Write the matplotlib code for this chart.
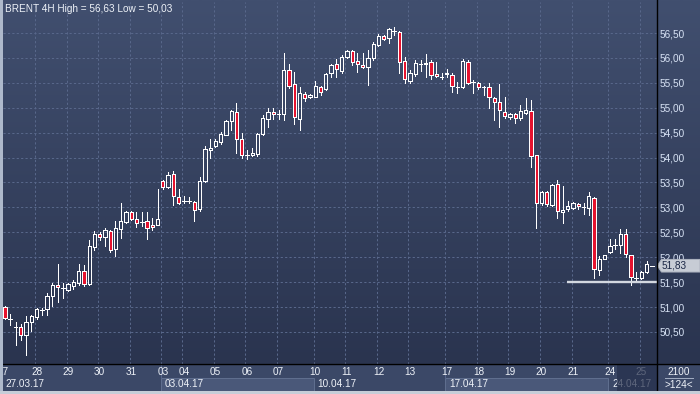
import numpy as np
import matplotlib
matplotlib.use("Agg")
import matplotlib.pyplot as plt
from matplotlib.patches import Rectangle, Polygon
from matplotlib.lines import Line2D
from matplotlib.colors import to_rgb

plt.rcParams['font.family'] = ['Liberation Sans', 'DejaVu Sans']

# ---------------- data (BRENT, 4H bars) ----------------
opens = [51.00, 50.77, 50.61, 50.61, 50.43, 50.71, 50.81, 50.94, 50.96, 51.23,
         51.44, 51.38, 51.34, 51.43, 51.48, 51.72, 51.47, 52.21, 52.46, 52.40,
         52.53, 52.16, 52.57, 52.71, 52.91, 52.76, 52.71, 52.72, 52.64, 52.64,
         53.54, 53.40, 53.68, 53.20, 53.13, 53.12, 53.10, 52.96, 53.54, 54.15,
         54.23, 54.32, 54.46, 54.74, 54.91, 54.37, 54.06, 54.05, 54.07, 54.47,
         54.78, 54.91, 54.87, 54.87, 55.76, 55.48, 54.77, 55.28, 55.21, 55.22,
         55.41, 55.37, 55.69, 55.87, 55.74, 56.01, 56.14, 55.93, 55.85, 55.82,
         55.99, 56.26, 56.44, 56.39, 56.54, 56.52, 55.94, 55.54, 55.67, 55.88,
         55.87, 55.91, 55.68, 55.62, 55.67, 55.66, 55.42, 55.41, 55.92, 55.51,
         55.49, 55.42, 55.41, 55.19, 55.11, 54.92, 54.81, 54.87, 54.79, 54.90,
         54.93, 54.05, 53.08, 53.30, 53.04, 53.46, 52.90, 52.97, 52.98, 53.07,
         53.00, 52.98, 53.18, 51.74, 51.96, 52.10, 52.24, 52.25, 52.46, 52.05,
         51.58, 51.58, 51.71, 51.83]
highs = [51.02, 50.86, 50.71, 50.67, 50.82, 50.84, 50.99, 50.99, 51.28, 51.48,
         51.86, 51.48, 51.48, 51.54, 51.86, 51.84, 52.35, 52.52, 52.50, 52.58,
         52.55, 52.73, 53.08, 52.93, 52.93, 52.91, 52.91, 52.91, 52.78, 53.37,
         53.56, 53.72, 53.74, 53.36, 53.23, 53.20, 53.12, 53.62, 54.24, 54.37,
         54.37, 54.51, 54.75, 54.95, 55.10, 54.49, 54.15, 54.20, 54.49, 54.86,
         54.99, 54.99, 54.95, 56.10, 55.88, 55.72, 55.41, 55.31, 55.28, 55.53,
         55.44, 55.69, 55.87, 55.98, 56.06, 56.16, 56.16, 56.09, 56.09, 56.16,
         56.31, 56.48, 56.46, 56.60, 56.63, 56.54, 56.02, 55.75, 55.95, 55.96,
         56.08, 55.95, 55.92, 55.69, 55.78, 55.70, 55.52, 55.97, 55.95, 55.55,
         55.52, 55.44, 55.49, 55.21, 55.48, 55.22, 54.89, 54.89, 55.06, 55.19,
         55.16, 54.05, 53.32, 53.33, 53.47, 53.55, 53.43, 53.12, 53.10, 53.09,
         53.09, 53.30, 53.20, 52.02, 52.04, 52.36, 52.36, 52.56, 52.56, 52.05,
         51.71, 51.73, 51.93, 51.83]
lows = [50.76, 50.64, 50.24, 50.34, 50.03, 50.53, 50.77, 50.84, 50.85, 51.02,
        51.11, 51.19, 51.32, 51.37, 51.44, 51.43, 51.44, 52.14, 52.35, 52.23,
        52.11, 52.03, 52.38, 52.69, 52.75, 52.60, 52.62, 52.36, 52.55, 52.64,
        53.36, 53.38, 53.05, 53.06, 53.08, 53.08, 52.73, 52.93, 53.50, 54.00,
        54.21, 54.27, 54.45, 54.55, 54.09, 53.99, 53.97, 54.03, 54.04, 54.45,
        54.62, 54.77, 54.77, 54.75, 55.40, 54.67, 54.55, 55.13, 55.19, 55.22,
        55.26, 55.36, 55.61, 55.61, 55.70, 55.99, 55.86, 55.72, 55.79, 55.46,
        55.96, 56.23, 56.35, 56.29, 56.46, 55.69, 55.50, 55.50, 55.64, 55.74,
        55.62, 55.58, 55.61, 55.57, 55.62, 55.32, 55.30, 55.39, 55.48, 55.29,
        55.37, 55.25, 54.99, 54.75, 54.62, 54.80, 54.78, 54.70, 54.76, 54.88,
        53.82, 52.58, 53.04, 53.03, 53.02, 52.78, 52.68, 52.92, 52.96, 52.97,
        52.87, 52.85, 51.58, 51.65, 51.96, 52.08, 52.16, 52.08, 52.01, 51.44,
        51.51, 51.56, 51.69, 51.83]
closes = [50.78, 50.77, 50.61, 50.43, 50.71, 50.82, 50.96, 50.94, 51.22, 51.44,
          51.40, 51.38, 51.46, 51.50, 51.72, 51.46, 52.22, 52.47, 52.40, 52.54,
          52.14, 52.58, 52.73, 52.90, 52.77, 52.68, 52.71, 52.58, 52.60, 52.76,
          53.40, 53.66, 53.23, 53.08, 53.13, 53.12, 52.94, 53.53, 54.17, 54.19,
          54.33, 54.47, 54.73, 54.93, 54.37, 54.05, 54.06, 54.09, 54.47, 54.79,
          54.91, 54.87, 54.87, 55.76, 55.44, 54.81, 55.29, 55.19, 55.26, 55.43,
          55.32, 55.67, 55.86, 55.77, 56.02, 56.14, 55.92, 55.87, 55.81, 55.99,
          56.28, 56.43, 56.37, 56.58, 56.54, 55.91, 55.57, 55.70, 55.89, 55.88,
          55.90, 55.66, 55.64, 55.62, 55.70, 55.44, 55.42, 55.94, 55.49, 55.51,
          55.41, 55.42, 55.21, 55.11, 54.96, 54.83, 54.87, 54.79, 54.93, 54.95,
          54.04, 53.08, 53.30, 53.06, 53.45, 52.92, 52.95, 53.02, 53.08, 53.02,
          53.00, 53.22, 51.76, 51.96, 52.04, 52.23, 52.24, 52.47, 52.06, 51.61,
          51.58, 51.71, 51.86, 51.83]

day_labels = ["27", "28", "29", "30", "31", "03", "04", "05", "06", "07", "10",
              "11", "12", "13", "17", "18", "19", "20", "21", "24", "25"]
day_bars = [-0.38, 6, 12, 18, 24, 30, 34, 40, 46, 52, 59,
            65, 71, 77, 84, 90, 96, 102, 108, 115, 121]
week_labels = ["27.03.17", "03.04.17", "10.04.17", "17.04.17", "24.04.17"]
week_bars = [-0.38, 30, 59, 84, 115]
price_levels = [50.5, 51.0, 51.5, 52.0, 52.5, 53.0, 53.5, 54.0, 54.5, 55.0, 55.5, 56.0, 56.5]
support_level = 51.50
support_start_bar = 106.8
title = "BRENT 4H"
bars_total_label = ">124<"
zoom_label = "2100"

# ---------------- styling ----------------
W, H = 700, 394
BG_TOP, BG_BOT = '#414f6f', '#2a344f'
BAND = '#3b4867'
GRID = '#58678a'
RED = '#e5132f'
TXT = '#eef2f8'
AXTXT = '#d8e3f5'
FS = 7.2
PX = 0.72  # one pixel in points

fig = plt.figure(figsize=(W / 100, H / 100), dpi=100)


def rect(x0, y0, x1, y1):
    return [x0 / W, 1 - y1 / H, (x1 - x0) / W, (y1 - y0) / H]


# background
bg = fig.add_axes([0, 0, 1, 1], zorder=-10)
t = np.linspace(0, 1, 256)[:, None]
grad = (np.array(to_rgb(BG_TOP)) * (1 - t) + np.array(to_rgb(BG_BOT)) * t)[:, None, :]
bg.imshow(grad, extent=[0, W, 364, 0], aspect='auto', interpolation='bilinear')
bg.add_patch(Rectangle((0, 364), W, 28, color=BAND))
bg.set_xlim(0, W)
bg.set_ylim(H, 0)
bg.axis('off')

# main price axes
X0 = -0.38
X1 = X0 + 653.5 / 5.26
Y1 = 56.5 + 31 / 49.83
Y0 = 50.5 - 32 / 49.83
ax = fig.add_axes(rect(3, 2, 656.5, 364))
ax.set_facecolor('none')
ax.set_xlim(X0, X1)
ax.set_ylim(Y0, Y1)
for s in ax.spines.values():
    s.set_visible(False)

ax.set_yticks(price_levels)
ax.set_yticklabels([f"{v:.2f}".replace('.', ',') for v in price_levels])
ax.yaxis.tick_right()
ax.tick_params(axis='y', length=0, pad=2.0, labelsize=FS, labelcolor=AXTXT)
ax.set_xticks([])
ax.set_xticks([d - 0.3 for d in day_bars[1:]], minor=True)
ax.tick_params(axis='x', which='both', length=0, labelbottom=False)
ax.grid(axis='y', which='major', color=GRID, linestyle=(0, (2.2, 2.2)), linewidth=PX)
ax.grid(axis='x', which='minor', color=GRID, linestyle=(0, (2.2, 2.2)), linewidth=PX)
ax.set_axisbelow(True)

idx = np.arange(len(opens))
o = np.array(opens); c = np.array(closes); h = np.array(highs); l = np.array(lows)
btop = np.maximum(o, c)
bbot = np.minimum(o, c)
ax.vlines(idx, btop, h, colors='white', linewidth=PX, antialiased=False, zorder=3)
ax.vlines(idx, l, bbot, colors='white', linewidth=PX, antialiased=False, zorder=3)
fills = [RED if cc < oo else 'none' for oo, cc in zip(o, c)]
ax.bar(idx, btop - bbot, bottom=bbot, width=0.62, color=fills, edgecolor='white',
       linewidth=PX, antialiased=False, zorder=4)
doji = btop - bbot < 0.005
ax.hlines(c[doji], idx[doji] - 0.35, idx[doji] + 0.35, colors='white',
          linewidth=PX, antialiased=False, zorder=4)

ax.hlines(support_level, support_start_bar, X1, colors='#d3d8e0', linewidth=1.7, zorder=5)

# right panel overlay (price tag)
axr = fig.add_axes(rect(656.5, 2, 700, 364), zorder=5)
axr.set_facecolor('none')
axr.set_xlim(0, 43.5)
axr.set_ylim(Y0, Y1)
axr.axis('off')
last = closes[-1]
hh = 6.3 / 49.83
axr.add_patch(Polygon([(0.8, last), (5, last + hh), (43.5, last + hh), (43.5, last - hh),
                       (5, last - hh)], closed=True, fc='#c7ccd5', ec='#aeb4c0', lw=PX))
axr.text(4.6, last, f"{last:.2f}".replace('.', ','), fontsize=FS, color='#1b2745',
         va='center', ha='left')

# bottom date band
axb = fig.add_axes(rect(3, 364, 656.5, 391.5))
axb.set_xlim(X0, X1)
axb.set_ylim(27.5, 0)
axb.axis('off')
for k in (1, 3):
    s = week_bars[k] - 0.3
    e = week_bars[k + 1] - 0.3
    axb.add_patch(Rectangle((s, 14), e - s, 13, fc='#4a5879', ec='#5f6e8e', lw=PX))
    axb.vlines(s, 0, 14, colors='#56648a', linewidth=PX)
for lab, d in zip(day_labels, day_bars):
    axb.text(d, 8.2, lab, fontsize=FS, color=TXT, ha='center', va='center')
for lab, d in zip(week_labels, week_bars):
    axb.text(d - 0.3 + 0.7, 20.0, lab, fontsize=FS, color=TXT, ha='left', va='center')
axb.add_patch(Rectangle((116.3, 0), X1 - 116.3, 27.5, fc='#26304c', alpha=0.72, lw=0, zorder=6))

# title
hi = max(highs); lo = min(lows)
fig.text(5 / W, 1 - 8.5 / H,
         f"{title} High = {hi:.2f} Low = {lo:.2f}".replace('.', ','),
         fontsize=FS, color=TXT, ha='left', va='center')

# right-bottom info
fig.text(679 / W, 1 - 372 / H, zoom_label, fontsize=FS, color=TXT, ha='center', va='center')
fig.text(679 / W, 1 - 384.5 / H, bars_total_label, fontsize=FS, color=TXT, ha='center', va='center')
fig.lines.append(Line2D([665 / W, 693 / W], [1 - 378 / H] * 2, color='#a0abc0', lw=PX,
                        transform=fig.transFigure, zorder=10))

# frame lines and borders
fig.lines.append(Line2D([3 / W, 1], [1 - 364 / H] * 2, color='black', lw=1.0,
                        transform=fig.transFigure, zorder=10))
fig.lines.append(Line2D([656.5 / W] * 2, [1 - 391.5 / H, 1], color='black', lw=1.0,
                        transform=fig.transFigure, zorder=10))
fig.patches.append(Rectangle((0, 0), 2.7 / W, 1, transform=fig.transFigure,
                             fc='#aeb9cb', lw=0, zorder=10))
fig.patches.append(Rectangle((0, 0), 1, 2.7 / H, transform=fig.transFigure,
                             fc='#c6cdd8', lw=0, zorder=10))

fig.savefig('out.png', dpi=100)
